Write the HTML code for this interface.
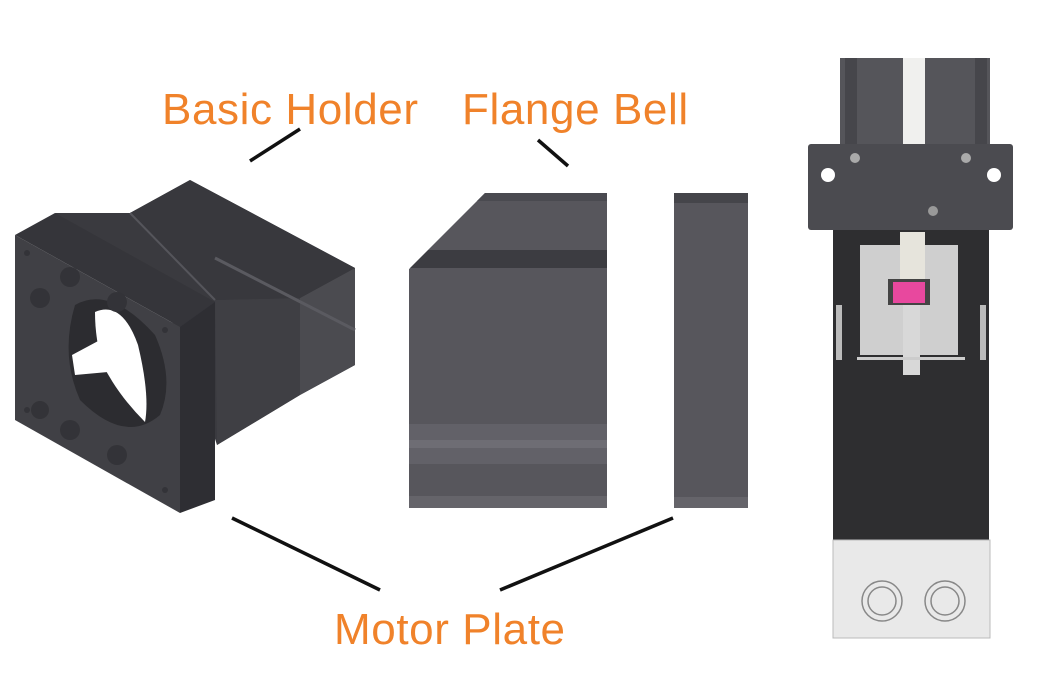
<!DOCTYPE html>
<html><head><meta charset="utf-8"><style>
html,body{margin:0;padding:0;background:#fff;width:1050px;height:700px;overflow:hidden}
svg{display:block}
text{font-family:"Liberation Sans",sans-serif;fill:#f0822a;font-size:44px;letter-spacing:0.6px}
</style></head><body>
<svg width="1050" height="700" viewBox="0 0 1050 700">
<!-- labels -->
<text x="162" y="124">Basic Holder</text>
<text x="462" y="124">Flange Bell</text>
<text x="334" y="644">Motor Plate</text>
<g stroke="#111" stroke-width="3.5">
<line x1="250" y1="161" x2="300" y2="129"/>
<line x1="538" y1="140" x2="568" y2="166"/>
<line x1="232" y1="518" x2="380" y2="590"/>
<line x1="500" y1="590" x2="673" y2="518"/>
</g>
<!-- basic holder back body -->
<polygon points="55,213 130,213 190,180 355,268 355,365 300,395 217,445 180,330" fill="#3a3a3f"/>
<polygon points="300,298 355,268 355,365 300,395" fill="#4b4b50"/>
<polygon points="215,300 300,298 300,395 217,445" fill="#3f3f44"/>
<polygon points="130,213 190,180 355,268 300,298 215,300" fill="#38383d"/>
<line x1="215" y1="258" x2="355" y2="330" stroke="#5a5a60" stroke-width="3"/>
<line x1="130" y1="213" x2="215" y2="300" stroke="#55555b" stroke-width="2"/>
<!-- front plate -->
<polygon points="15,235 55,213 215,302 180,327" fill="#35353a"/>
<polygon points="180,327 215,302 215,500 180,513" fill="#2e2e33"/>
<polygon points="15,235 180,327 180,513 15,420" fill="#404045"/>
<path d="M75,305 Q110,285 155,335 Q175,380 160,415 Q125,445 80,400 Q60,355 75,305Z" fill="#2c2c30"/>
<path d="M95,312 Q122,300 138,345 Q150,395 145,422 Q118,395 103,365 Q95,340 95,312 Z" fill="#fff"/>
<path d="M72,355 L100,340 L108,372 L75,375Z" fill="#fff"/>
<g fill="#333338">
<circle cx="70" cy="277" r="10"/><circle cx="117" cy="302" r="10"/><circle cx="40" cy="298" r="10"/>
<circle cx="70" cy="430" r="10"/><circle cx="117" cy="455" r="10"/><circle cx="40" cy="410" r="9"/>
<circle cx="27" cy="253" r="3"/><circle cx="165" cy="330" r="3"/><circle cx="27" cy="410" r="3"/><circle cx="165" cy="490" r="3"/>
</g>
<!-- flange bell -->
<polygon points="409,269 485,193 607,193 607,508 409,508" fill="#57565c"/>
<rect x="409" y="250" width="198" height="18" fill="#3c3c41"/>
<polygon points="485,193 607,193 607,201 477,201" fill="#4a4a50"/>
<polygon points="428,250 409,269 409,250" fill="#fff"/>
<rect x="409" y="424" width="198" height="40" fill="#626168"/>
<rect x="409" y="440" width="198" height="8" fill="#6e6d74"/>
<rect x="409" y="496" width="198" height="12" fill="#65646a"/>
<!-- motor plate narrow -->
<rect x="674" y="193" width="74" height="315" fill="#57565c"/>
<rect x="674" y="193" width="74" height="10" fill="#45454a"/>
<rect x="674" y="497" width="74" height="11" fill="#65646a"/>
<!-- right assembly -->
<rect x="840" y="58" width="150" height="90" fill="#55555a"/>
<rect x="903" y="58" width="22" height="90" fill="#f0f0ee"/>
<rect x="845" y="58" width="12" height="90" fill="#46464b"/>
<rect x="975" y="58" width="12" height="90" fill="#46464b"/>
<rect x="833" y="228" width="156" height="315" fill="#2e2e30"/>
<rect x="808" y="144" width="205" height="86" rx="3" fill="#4b4b50"/>
<circle cx="828" cy="175" r="7" fill="#fff"/><circle cx="994" cy="175" r="7" fill="#fff"/>
<circle cx="855" cy="158" r="5" fill="#aaa"/><circle cx="966" cy="158" r="5" fill="#aaa"/><circle cx="933" cy="211" r="5" fill="#999"/>
<rect x="860" y="245" width="98" height="110" fill="#cfcfcf"/>
<rect x="900" y="232" width="25" height="50" fill="#e6e4dc"/>
<rect x="903" y="300" width="17" height="75" fill="#d8d8d8"/>
<rect x="888" y="279" width="42" height="26" fill="#444"/>
<rect x="893" y="282" width="32" height="21" fill="#e8489e"/>
<rect x="836" y="305" width="6" height="55" fill="#bbb"/><rect x="980" y="305" width="6" height="55" fill="#bbb"/>
<rect x="857" y="357" width="108" height="3" fill="#ccc"/>
<rect x="833" y="540" width="157" height="98" fill="#e9e9e9" stroke="#bbb"/>
<g fill="none" stroke="#888" stroke-width="1.5">
<circle cx="882" cy="601" r="20"/><circle cx="882" cy="601" r="14"/>
<circle cx="945" cy="601" r="20"/><circle cx="945" cy="601" r="14"/>
</g>
</svg>
</body></html>
